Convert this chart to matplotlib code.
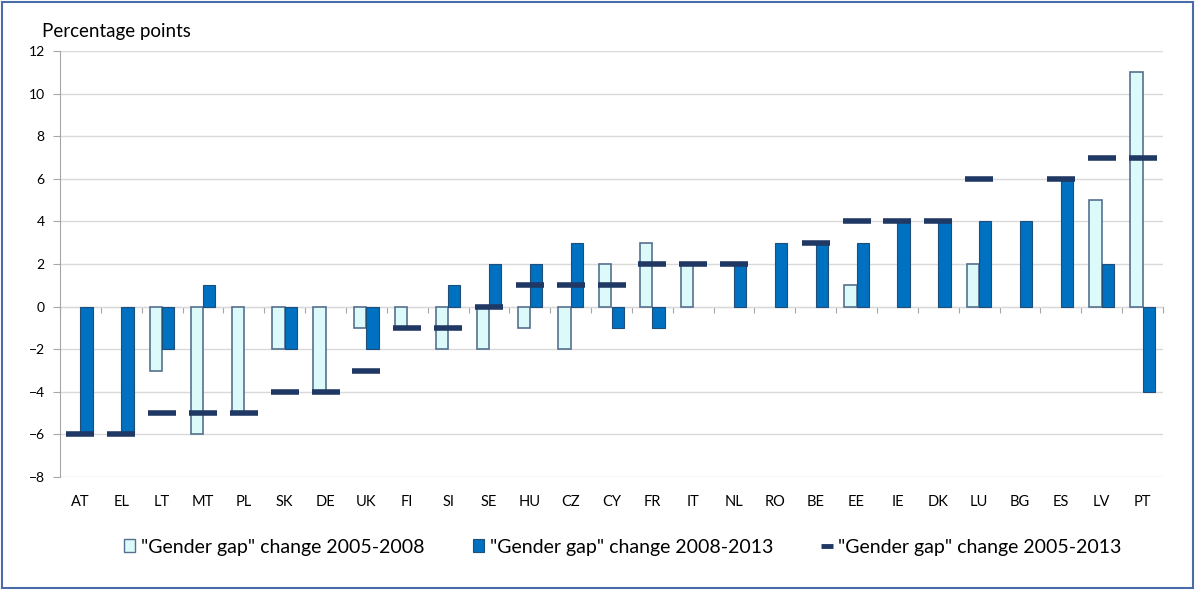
import numpy as np
import matplotlib.pyplot as plt
from matplotlib.patches import Rectangle, Patch
from matplotlib.lines import Line2D

plt.rcParams['font.family'] = ['Lato', 'DejaVu Sans']

# data
countries = ['AT', 'EL', 'LT', 'MT', 'PL', 'SK', 'DE', 'UK', 'FI', 'SI', 'SE', 'HU', 'CZ', 'CY',
             'FR', 'IT', 'NL', 'RO', 'BE', 'EE', 'IE', 'DK', 'LU', 'BG', 'ES', 'LV', 'PT']
change_05_08 = [0, 0, -3, -6, -5, -2, -4, -1, -1, -2, -2, -1, -2, 2,
                3, 2, 0, 0, 0, 1, 0, 0, 2, 0, 0, 5, 11]
change_08_13 = [-6, -6, -2, 1, 0, -2, 0, -2, 0, 1, 2, 2, 3, -1,
                -1, 0, 2, 3, 3, 3, 4, 4, 4, 4, 6, 2, -4]
change_05_13 = [-6, -6, -5, -5, -5, -4, -4, -3, -1, -1, 0, 1, 1, 1,
                2, 2, 2, np.nan, 3, 4, 4, 4, 6, np.nan, 6, 7, 7]

LIGHT = '#DCFAFA'
LIGHT_EDGE = '#56708F'
DARK = '#0070C0'
DARK_EDGE = '#1F4E79'
DASH = '#203864'
GRID = '#D9D9D9'
AXIS = '#A6A6A6'

fig = plt.figure(figsize=(11.95, 5.9), dpi=100)
ax = fig.add_axes([60/1195, 1-477/590, (1163-60)/1195, (477-51)/590])

x = np.arange(len(countries))
w = 0.3
# zero-height bars are not drawn in the original
light = np.where(np.array(change_05_08) == 0, np.nan, change_05_08)
dark = np.where(np.array(change_08_13) == 0, np.nan, change_08_13)
ax.bar(x - w/2, light, width=w, color=LIGHT, edgecolor=LIGHT_EDGE, linewidth=1.2, zorder=3)
ax.bar(x + w/2, dark, width=w, color=DARK, edgecolor=DARK_EDGE, linewidth=0.8, zorder=3)
ax.plot(x, change_05_13, ls='none', marker='_', ms=19.5, mew=4, color=DASH, zorder=4)

ax.set_xlim(-0.5, len(countries) - 0.5)
ax.set_ylim(-8, 12)
ax.set_yticks(np.arange(-8, 13, 2))
ax.yaxis.grid(True, color=GRID, linewidth=1, zorder=0)
ax.set_axisbelow(True)
ax.tick_params(axis='y', length=5, color=AXIS, pad=6, labelsize=10)

ax.set_xticks(x)
ax.set_xticklabels(countries)
ax.tick_params(axis='x', length=0, pad=13, labelsize=10.5)

for s in ['top', 'right', 'bottom']:
    ax.spines[s].set_visible(False)
ax.spines['left'].set_color(AXIS)

# category axis drawn at zero with tick marks between categories
zero_axis = ax.secondary_xaxis(8/20)
zero_axis.set_xticks(np.arange(-0.5, len(countries)), labels=[])
zero_axis.tick_params(length=4, color=AXIS, direction='out')
zero_axis.spines['bottom'].set_color(AXIS)

fig.text(42/1195, 1-32/590, 'Percentage points', fontsize=13.5, va='center', ha='left')

handles = [
    Patch(facecolor=LIGHT, edgecolor=LIGHT_EDGE, linewidth=1.0),
    Patch(facecolor=DARK, edgecolor=DARK_EDGE, linewidth=0.8),
    Line2D([], [], ls='none', marker='_', ms=8, mew=3.5, color=DASH),
]
labels = ['"Gender gap" change 2005-2008', '"Gender gap" change 2008-2013', '"Gender gap" change 2005-2013']
fig.legend(handles, labels, loc='center', bbox_to_anchor=(623/1195, 1-547/590), ncol=3, frameon=False,
           fontsize=14, handlelength=0.55, handleheight=0.62, handletextpad=0.3, columnspacing=2.5)

fig.add_artist(Rectangle((2/1195, 2/590), 1-4/1195, 1-4/590, transform=fig.transFigure,
                         fill=False, edgecolor='#4A6DA7', linewidth=1.5))

fig.savefig('out.png', dpi=100)
